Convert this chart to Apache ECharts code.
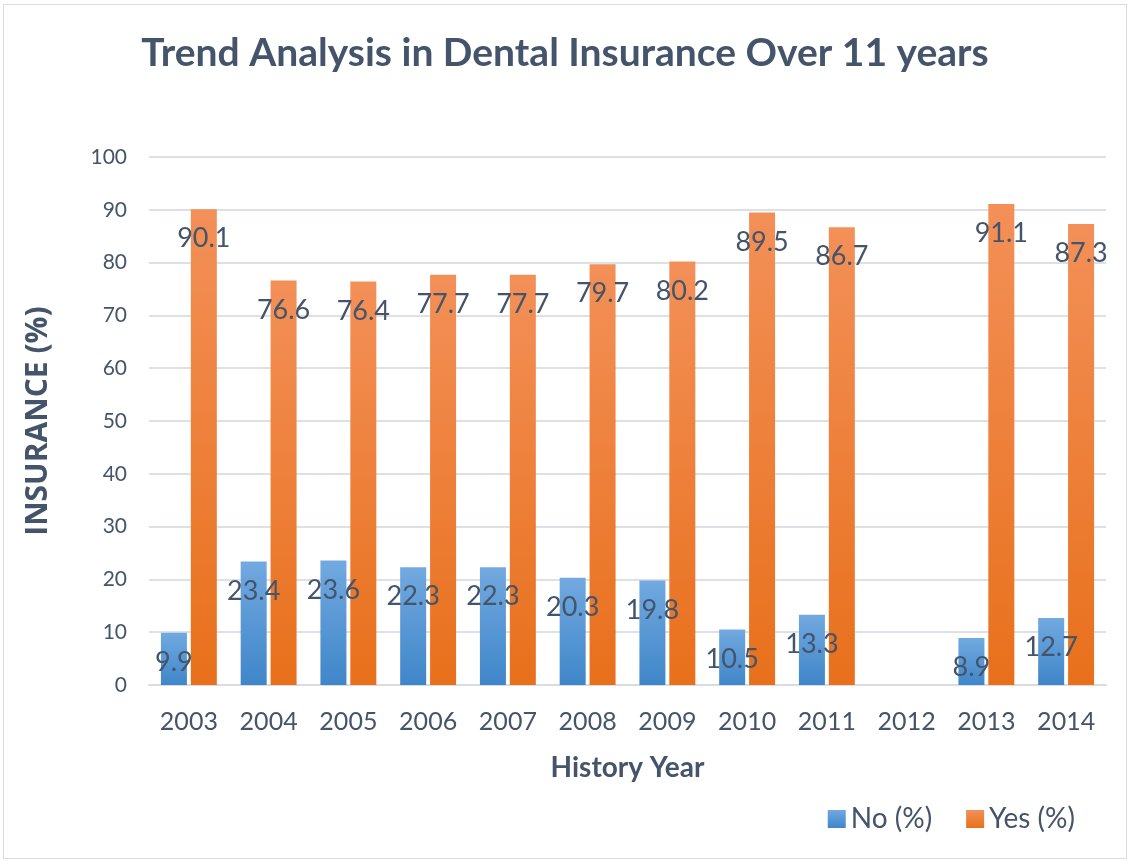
<!DOCTYPE html>
<html>
<head>
<meta charset="utf-8">
<script src="https://cdn.jsdelivr.net/npm/echarts@6/dist/echarts.min.js"></script>
<style>
  html, body { margin: 0; padding: 0; background: #fff; }
  #main { position: absolute; left: 3px; top: 4px; width: 1124px; height: 855px; border: 1px solid #d9dde3; box-sizing: border-box; }
</style>
</head>
<body>
<div id="main"></div>
<script>
var years = ['2003', '2004', '2005', '2006', '2007', '2008', '2009', '2010', '2011', '2012', '2013', '2014'];
var noPct = [9.9, 23.4, 23.6, 22.3, 22.3, 20.3, 19.8, 10.5, 13.3, null, 8.9, 12.7];
var yesPct = [90.1, 76.6, 76.4, 77.7, 77.7, 79.7, 80.2, 89.5, 86.7, null, 91.1, 87.3];

var textColor = '#44546a';
var font = 'Lato, "Open Sans", sans-serif';

function grad(top, bottom) {
	return new echarts.graphic.LinearGradient(0, 0, 0, 1, [
		{ offset: 0, color: top },
		{ offset: 1, color: bottom }
	]);
}

var chart = echarts.init(document.getElementById('main'), null, { renderer: 'canvas' });

var labelStyle = {
	show: true,
	position: 'insideTop',
	distance: 16,
	color: textColor,
	fontFamily: font,
	fontSize: 27
};

var option = {
	animation: false,
	textStyle: { fontFamily: font },
	title: {
		text: 'Trend Analysis in Dental Insurance Over 11 years',
		left: 'center',
		top: 24,
		textStyle: { color: textColor, fontSize: 39, fontWeight: 'bold', fontFamily: font }
	},
	legend: {
		right: 46,
		bottom: 20,
		itemWidth: 18,
		itemHeight: 18,
		itemGap: 34,
		icon: 'rect',
		textStyle: { color: textColor, fontSize: 28, fontFamily: font },
		data: ['No (%)', 'Yes (%)']
	},
	grid: {
		left: 145,
		right: 20,
		top: 152,
		bottom: 173
	},
	xAxis: {
		type: 'category',
		data: years,
		name: 'History Year',
		nameLocation: 'middle',
		nameGap: 69,
		nameTextStyle: { color: textColor, fontSize: 28, fontWeight: 'bold', fontFamily: font },
		axisLine: { show: true, lineStyle: { color: '#d9dde3', width: 2 } },
		axisTick: { show: false },
		axisLabel: { color: textColor, fontSize: 25, margin: 24, fontFamily: font }
	},
	yAxis: {
		type: 'value',
		min: 0,
		max: 100,
		interval: 10,
		name: 'INSURANCE (%)',
		nameLocation: 'middle',
		nameGap: 96,
		nameTextStyle: { color: textColor, fontSize: 30, fontWeight: 'bold', fontFamily: '"Open Sans", Lato, sans-serif' },
		axisLine: { show: false },
		axisTick: { show: false },
		axisLabel: { color: textColor, fontSize: 21, margin: 22, fontFamily: font },
		splitLine: { lineStyle: { color: '#dde1e6', width: 2 } }
	},
	series: [
		{
			name: 'No (%)',
			type: 'bar',
			barWidth: 26,
			barGap: '15%',
			data: noPct,
			itemStyle: { color: grad('#72a9e0', '#3f86c9') },
			label: labelStyle
		},
		{
			name: 'Yes (%)',
			type: 'bar',
			barWidth: 26,
			barGap: '15%',
			data: yesPct,
			itemStyle: { color: grad('#f39058', '#e8701b') },
			label: labelStyle
		}
	]
};

chart.setOption(option);
</script>
</body>
</html>
